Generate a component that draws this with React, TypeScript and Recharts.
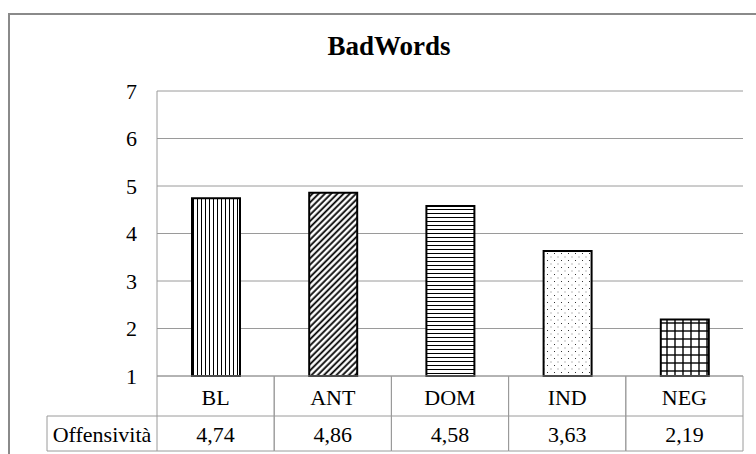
import { Bar, BarChart, CartesianGrid, Cell, XAxis, YAxis } from 'recharts';

const categories = ['BL', 'ANT', 'DOM', 'IND', 'NEG'];
const offensivita = [4.74, 4.86, 4.58, 3.63, 2.19];
const yTicks = [1, 2, 3, 4, 5, 6, 7];
const rowLabel = 'Offensività';
const title = 'BadWords';
const patterns = ['pVert', 'pDiag', 'pHoriz', 'pDots', 'pGrid'];

const chartData = categories.map((name, i) => ({ name, value: offensivita[i] }));

const FONT = '"Liberation Serif", "Times New Roman", serif';
const LINE = '#9a9a9a';
const HALF = 586 / 10;

function fmt(v: number) {
  return v.toFixed(2).replace('.', ',');
}

function TableTick(props: any) {
  const { x, y, payload, index } = props;
  const left = x - HALF;
  const right = x + HALF;
  return (
    <g>
      <line x1={left} y1={y} x2={left} y2={y + 75} stroke={LINE} />
      <line x1={right} y1={y} x2={right} y2={y + 75} stroke={LINE} />
      <line x1={left} y1={y + 40} x2={right} y2={y + 40} stroke={LINE} />
      <line x1={left} y1={y + 75} x2={right} y2={y + 75} stroke={LINE} />
      <text x={x} y={y + 21} textAnchor="middle" dominantBaseline="central" fontFamily={FONT} fontSize={22} fill="#000">
        {payload.value}
      </text>
      <text x={x} y={y + 58} textAnchor="middle" dominantBaseline="central" fontFamily={FONT} fontSize={22} fill="#000">
        {fmt(offensivita[index])}
      </text>
      {index === 0 && (
        <g>
          <line x1={47} y1={y + 40} x2={left} y2={y + 40} stroke={LINE} />
          <line x1={47} y1={y + 75} x2={left} y2={y + 75} stroke={LINE} />
          <line x1={47} y1={y + 40} x2={47} y2={y + 75} stroke={LINE} />
          <text x={(47 + left) / 2} y={y + 58} textAnchor="middle" dominantBaseline="central" fontFamily={FONT} fontSize={22} fill="#000">
            {rowLabel}
          </text>
        </g>
      )}
    </g>
  );
}

export default function App() {
  return (
    <div style={{ position: 'absolute', left: 0, top: 0, width: 756, height: 454, overflow: 'hidden', background: '#fff' }}>
      <div
        style={{
          position: 'absolute',
          left: 8,
          top: 13,
          width: 800,
          height: 500,
          borderLeft: '2px solid #8a8a8a',
          borderTop: '2px solid #8a8a8a',
        }}
      />
      <div
        style={{
          position: 'absolute',
          left: 0,
          width: 778,
          top: 33,
          textAlign: 'center',
          fontFamily: FONT,
          fontWeight: 'bold',
          fontSize: 27,
          lineHeight: '27px',
          color: '#000',
        }}
      >
        {title}
      </div>
      <div style={{ position: 'absolute', left: 0, top: 0 }}>
        <BarChart width={756} height={454} data={chartData} margin={{ top: 91, right: 13, left: 0, bottom: 0 }}>
          <defs>
            <pattern id="pVert" width={4} height={4} patternUnits="userSpaceOnUse">
              <rect width={4} height={4} fill="#fff" />
              <line x1={1.5} y1={0} x2={1.5} y2={4} stroke="#000" strokeWidth={1} />
            </pattern>
            <pattern id="pDiag" width={4.4} height={4.4} patternUnits="userSpaceOnUse" patternTransform="rotate(45)">
              <rect width={4.4} height={4.4} fill="#fff" />
              <line x1={1.5} y1={0} x2={1.5} y2={4.4} stroke="#000" strokeWidth={1.8} />
            </pattern>
            <pattern id="pHoriz" width={4} height={4} patternUnits="userSpaceOnUse">
              <rect width={4} height={4} fill="#fff" />
              <line x1={0} y1={1.5} x2={4} y2={1.5} stroke="#000" strokeWidth={1} />
            </pattern>
            <pattern id="pDots" width={7} height={7} patternUnits="userSpaceOnUse">
              <rect width={7} height={7} fill="#fff" />
              <rect x={1} y={1} width={1} height={1} fill="#333" />
              <rect x={4.5} y={4.5} width={1} height={1} fill="#777" />
            </pattern>
            <pattern id="pGrid" width={8} height={8} patternUnits="userSpaceOnUse">
              <rect width={8} height={8} fill="#fff" />
              <line x1={3} y1={0} x2={3} y2={8} stroke="#000" strokeWidth={1.4} />
              <line x1={0} y1={3} x2={8} y2={3} stroke="#000" strokeWidth={1.4} />
            </pattern>
          </defs>
          <CartesianGrid vertical={false} stroke={LINE} />
          <XAxis
            dataKey="name"
            height={78}
            axisLine={{ stroke: LINE }}
            tickLine={false}
            tickSize={0}
            tickMargin={0}
            interval={0}
            tick={<TableTick />}
          />
          <YAxis
            domain={[1, 7]}
            ticks={yTicks}
            width={157}
            axisLine={{ stroke: LINE }}
            tickLine={false}
            tickSize={0}
            tickMargin={20}
            tick={{ fontFamily: FONT, fontSize: 22, fill: '#000' }}
            interval={0}
          />
          <Bar dataKey="value" barSize={48} stroke="#000" strokeWidth={2} isAnimationActive={false}>
            {chartData.map((entry, i) => (
              <Cell key={entry.name} fill={`url(#${patterns[i]})`} />
            ))}
          </Bar>
        </BarChart>
      </div>
    </div>
  );
}
